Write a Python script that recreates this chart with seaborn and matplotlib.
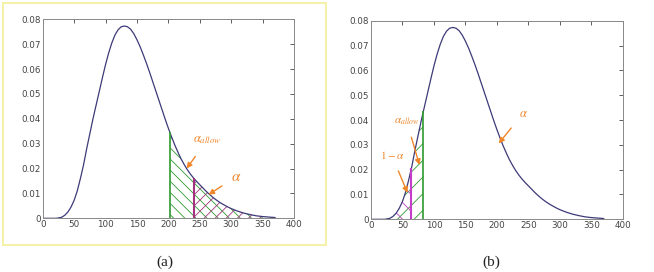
import numpy as np
import pandas as pd
import matplotlib
matplotlib.use("Agg")
import matplotlib.pyplot as plt
import seaborn as sns
from matplotlib.patches import Rectangle

# ------------------------------
# data
# ------------------------------
x_vals = [0, 22, 30, 35, 40, 45, 50, 55, 60, 65, 70, 75, 80, 85, 90, 95, 100,
          105, 110, 115, 120, 125, 130, 135, 140, 145, 150, 155, 160, 165, 170,
          175, 180, 185, 190, 195, 200, 205, 210, 215, 220, 225, 230, 235, 240,
          245, 250, 255, 260, 265, 270, 275, 280, 285, 290, 295, 300, 310, 320,
          330, 340, 350, 360, 370]
pdf_vals = [0, 0, 0.0004, 0.0012, 0.0025, 0.0045, 0.0072, 0.011, 0.016, 0.0215,
            0.028, 0.034, 0.040, 0.0455, 0.051, 0.0565, 0.0618, 0.0665, 0.0705,
            0.0737, 0.0758, 0.0770, 0.0773, 0.0770, 0.0760, 0.0742, 0.0718,
            0.0690, 0.0658, 0.0624, 0.0588, 0.0550, 0.0512, 0.0474, 0.0436,
            0.0398, 0.0362, 0.0328, 0.0296, 0.0267, 0.0240, 0.0217, 0.0196,
            0.0178, 0.0162, 0.0148, 0.0135, 0.0122, 0.0109, 0.0097, 0.0086,
            0.0076, 0.0067, 0.0059, 0.0052, 0.0045, 0.0039, 0.0029, 0.0021,
            0.0015, 0.0010, 0.0007, 0.0005, 0.0003]

# panel (a): thresholds on the right tail
a_green_x, a_green_top = 203, 0.0345
a_mag_x, a_mag_top = 240, 0.0162
# panel (b): thresholds on the left tail
b_green_x, b_green_top = 83, 0.0435
b_mag_x, b_mag_top = 64, 0.0205

xticks = [0, 50, 100, 150, 200, 250, 300, 350, 400]
yticks = [0, 0.01, 0.02, 0.03, 0.04, 0.05, 0.06, 0.07, 0.08]
ytick_labels = ["0", "0.01", "0.02", "0.03", "0.04", "0.05", "0.06", "0.07", "0.08"]

df = pd.DataFrame({"x": x_vals, "pdf": pdf_vals})

curve_col = "#3d3a78"
green = "#2f9a2f"
mag_a = "#a2327f"
mag_b = "#c43cc8"
orange = "#f0862a"

sns.set_style("white")
plt.rcParams["font.family"] = ["DejaVu Sans"]
plt.rcParams["mathtext.fontset"] = "stix"
plt.rcParams["hatch.linewidth"] = 0.6

fig = plt.figure(figsize=(6.54, 2.72), dpi=100)
ax_a = fig.add_axes([0.0653, 0.1974, 0.3843, 0.7316])
ax_b = fig.add_axes([0.5673, 0.1937, 0.3849, 0.7300])

# yellow frame around panel (a)
fig.patches.append(Rectangle((3 / 654, 1 - 245 / 272), 323 / 654, 242 / 272,
                             transform=fig.transFigure, fill=False,
                             edgecolor="#f6f1a6", linewidth=1.4))


def style_axes(ax):
    ax.set_xlim(0, 400)
    ax.set_ylim(0, 0.08)
    ax.set_xticks(xticks)
    ax.set_yticks(yticks)
    ax.set_yticklabels(ytick_labels)
    ax.tick_params(direction="in", length=3, width=0.6, labelsize=6.3,
                   colors="#444444", top=True, right=True, pad=1.5)
    for s in ax.spines.values():
        s.set_color("#888888")
        s.set_linewidth(0.7)
    ax.set_xlabel("")
    ax.set_ylabel("")


arrow = dict(arrowstyle="-|>", color=orange, lw=1, mutation_scale=8,
             shrinkA=5, shrinkB=0)

# ---------- panel (a) ----------
sns.lineplot(data=df, x="x", y="pdf", ax=ax_a, color=curve_col, linewidth=0.9)
tail = df[df["x"] > a_green_x]
fx = [a_green_x] + list(tail["x"])
fy = [a_green_top] + list(tail["pdf"])
ax_a.fill_between(fx, 0, fy, facecolor="none", edgecolor=green,
                  hatch="\\\\\\", linewidth=0)
tail2 = df[df["x"] > a_mag_x]
mx = [a_mag_x] + list(tail2["x"])
my = [a_mag_top] + list(tail2["pdf"])
ax_a.fill_between(mx, 0, my, facecolor="none", edgecolor=mag_a, hatch="///",
                  linewidth=0)
ax_a.vlines(a_green_x, 0, a_green_top, color=green, linewidth=1.2)
ax_a.vlines(a_mag_x, 0, a_mag_top, color=mag_a, linewidth=1.5)
ax_a.annotate(r"$\alpha_{allow}$", xy=(229, 0.020), xytext=(262, 0.0315),
              color=orange, fontsize=9, ha="center", va="center",
              arrowprops=dict(arrow, shrinkA=6))
ax_a.annotate(r"$\alpha$", xy=(264, 0.0095), xytext=(308, 0.0168),
              color=orange, fontsize=11, ha="center", va="center",
              arrowprops=arrow)
style_axes(ax_a)

# ---------- panel (b) ----------
sns.lineplot(data=df, x="x", y="pdf", ax=ax_b, color=curve_col, linewidth=0.9)
head = df[df["x"] < b_green_x]
gx = list(head["x"]) + [b_green_x]
gy = list(head["pdf"]) + [b_green_top]
ax_b.fill_between(gx, 0, gy, facecolor="none", edgecolor=green, hatch="//",
                  linewidth=0)
head2 = df[df["x"] < b_mag_x]
hx = list(head2["x"]) + [b_mag_x]
hy = list(head2["pdf"]) + [b_mag_top]
ax_b.fill_between(hx, 0, hy, facecolor="none", edgecolor=mag_b, hatch="\\\\",
                  linewidth=0)
ax_b.vlines(b_green_x, 0, b_green_top, color=green, linewidth=1.2)
ax_b.vlines(b_mag_x, 0, b_mag_top, color=mag_b, linewidth=1.5)
ax_b.annotate(r"$\alpha$", xy=(203, 0.0306), xytext=(242, 0.0428),
              color=orange, fontsize=9, ha="center", va="center",
              arrowprops=arrow)
ax_b.annotate(r"$\alpha_{allow}$", xy=(77, 0.0219), xytext=(57, 0.0392),
              color=orange, fontsize=8, ha="center", va="center",
              arrowprops=arrow)
ax_b.annotate(r"$1-\alpha$", xy=(58, 0.0107), xytext=(33, 0.0258),
              color=orange, fontsize=8, ha="center", va="center",
              arrowprops=arrow)
style_axes(ax_b)

fig.text(165 / 654, 1 - 262 / 272, "(a)", ha="center", va="center",
         fontsize=11, family="Liberation Serif", color="#222222")
fig.text(491 / 654, 1 - 262 / 272, "(b)", ha="center", va="center",
         fontsize=11, family="Liberation Serif", color="#222222")

fig.savefig("out.png", dpi=100)
